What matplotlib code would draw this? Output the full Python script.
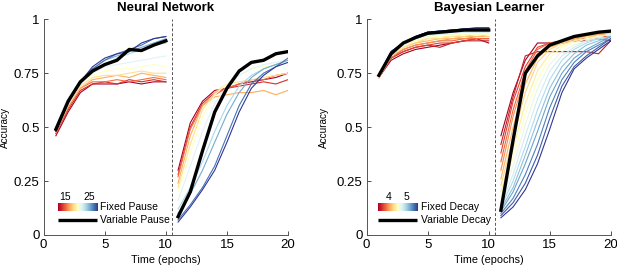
import numpy as np
import matplotlib
matplotlib.use("Agg")
import matplotlib.pyplot as plt

plt.rcParams['font.family'] = ['Liberation Sans', 'DejaVu Sans']

epochs_a = [1, 2, 3, 4, 5, 6, 7, 8, 9, 10]
epochs_b = [11, 12, 13, 14, 15, 16, 17, 18, 19, 20]

# ---------------- Neural Network ----------------
nn_pauses = [12, 13.6, 15.2, 16.8, 18.4, 20, 21.6, 23.2, 24.8, 26.4, 28]
nn_fixed_a = [
    [0.46, 0.57, 0.66, 0.70, 0.70, 0.70, 0.71, 0.70, 0.71, 0.71],
    [0.47, 0.58, 0.67, 0.70, 0.71, 0.70, 0.72, 0.71, 0.72, 0.71],
    [0.47, 0.59, 0.68, 0.71, 0.71, 0.72, 0.71, 0.72, 0.73, 0.72],
    [0.48, 0.60, 0.68, 0.72, 0.73, 0.74, 0.73, 0.75, 0.74, 0.73],
    [0.48, 0.60, 0.69, 0.73, 0.74, 0.74, 0.75, 0.76, 0.75, 0.75],
    [0.48, 0.61, 0.70, 0.74, 0.76, 0.77, 0.77, 0.78, 0.79, 0.78],
    [0.49, 0.61, 0.70, 0.75, 0.78, 0.79, 0.80, 0.81, 0.82, 0.83],
    [0.49, 0.62, 0.70, 0.76, 0.79, 0.82, 0.84, 0.86, 0.88, 0.89],
    [0.48, 0.62, 0.71, 0.77, 0.81, 0.83, 0.85, 0.87, 0.89, 0.91],
    [0.48, 0.62, 0.71, 0.77, 0.81, 0.84, 0.86, 0.88, 0.91, 0.92],
    [0.48, 0.61, 0.71, 0.78, 0.82, 0.84, 0.85, 0.89, 0.91, 0.92],
]
nn_fixed_b = [
    [0.30, 0.52, 0.62, 0.67, 0.68, 0.70, 0.71, 0.72, 0.73, 0.75],
    [0.28, 0.50, 0.61, 0.66, 0.68, 0.69, 0.70, 0.71, 0.70, 0.72],
    [0.27, 0.49, 0.60, 0.65, 0.68, 0.70, 0.72, 0.72, 0.74, 0.75],
    [0.24, 0.46, 0.60, 0.64, 0.65, 0.66, 0.66, 0.67, 0.65, 0.67],
    [0.22, 0.42, 0.58, 0.66, 0.70, 0.71, 0.72, 0.73, 0.74, 0.75],
    [0.20, 0.38, 0.55, 0.65, 0.70, 0.74, 0.77, 0.78, 0.79, 0.80],
    [0.16, 0.32, 0.48, 0.61, 0.69, 0.74, 0.77, 0.79, 0.80, 0.81],
    [0.12, 0.22, 0.34, 0.48, 0.60, 0.69, 0.74, 0.77, 0.79, 0.81],
    [0.10, 0.19, 0.30, 0.43, 0.56, 0.66, 0.73, 0.77, 0.79, 0.81],
    [0.07, 0.14, 0.22, 0.32, 0.46, 0.60, 0.70, 0.75, 0.78, 0.82],
    [0.06, 0.13, 0.21, 0.30, 0.43, 0.57, 0.68, 0.74, 0.78, 0.80],
]
nn_var_a = [0.49, 0.62, 0.71, 0.76, 0.79, 0.81, 0.86, 0.855, 0.88, 0.90]
nn_var_b = [0.085, 0.20, 0.39, 0.57, 0.68, 0.76, 0.80, 0.81, 0.84, 0.85]
nn_cbar_range = [12, 28]
nn_cbar_ticks = [15, 25]

# ---------------- Bayesian Learner ----------------
bl_decays = [3.4, 3.53, 3.66, 3.8, 3.93, 4.06, 4.2, 4.33, 4.46, 4.6, 4.73, 4.86, 5.0, 5.13, 5.26, 5.4, 5.53]
bl_fixed_a = [
    [0.73, 0.81, 0.84, 0.86, 0.87, 0.88, 0.89, 0.90, 0.91, 0.89],
    [0.73, 0.82, 0.85, 0.87, 0.88, 0.87, 0.89, 0.90, 0.90, 0.90],
    [0.73, 0.82, 0.85, 0.87, 0.88, 0.89, 0.89, 0.90, 0.91, 0.91],
    [0.73, 0.82, 0.86, 0.88, 0.89, 0.90, 0.90, 0.91, 0.91, 0.91],
    [0.73, 0.83, 0.86, 0.88, 0.89, 0.90, 0.91, 0.91, 0.92, 0.92],
    [0.73, 0.83, 0.87, 0.89, 0.90, 0.91, 0.91, 0.92, 0.92, 0.92],
    [0.73, 0.83, 0.87, 0.89, 0.91, 0.91, 0.92, 0.92, 0.93, 0.92],
    [0.73, 0.83, 0.87, 0.90, 0.91, 0.92, 0.92, 0.93, 0.93, 0.93],
    [0.73, 0.84, 0.88, 0.90, 0.92, 0.92, 0.93, 0.93, 0.93, 0.93],
    [0.74, 0.84, 0.88, 0.91, 0.92, 0.93, 0.93, 0.94, 0.94, 0.94],
    [0.74, 0.84, 0.88, 0.91, 0.93, 0.93, 0.94, 0.94, 0.94, 0.94],
    [0.74, 0.85, 0.89, 0.91, 0.93, 0.94, 0.94, 0.95, 0.95, 0.95],
    [0.74, 0.85, 0.89, 0.92, 0.93, 0.94, 0.95, 0.95, 0.95, 0.95],
    [0.74, 0.85, 0.89, 0.92, 0.94, 0.94, 0.95, 0.95, 0.955, 0.955],
    [0.74, 0.85, 0.89, 0.92, 0.94, 0.945, 0.95, 0.955, 0.955, 0.96],
    [0.74, 0.85, 0.89, 0.92, 0.94, 0.945, 0.95, 0.955, 0.96, 0.96],
    [0.74, 0.85, 0.89, 0.92, 0.94, 0.945, 0.95, 0.955, 0.96, 0.96],
]
bl_fixed_b = [
    [0.46, 0.66, 0.81, 0.89, 0.89, 0.89, 0.90, 0.90, 0.91, 0.90],
    [0.42, 0.64, 0.83, 0.85, 0.85, 0.85, 0.85, 0.85, 0.84, 0.90],
    [0.38, 0.62, 0.78, 0.87, 0.89, 0.90, 0.91, 0.91, 0.92, 0.92],
    [0.34, 0.58, 0.76, 0.86, 0.89, 0.90, 0.91, 0.92, 0.92, 0.93],
    [0.30, 0.55, 0.74, 0.84, 0.88, 0.90, 0.91, 0.92, 0.93, 0.93],
    [0.26, 0.50, 0.70, 0.82, 0.87, 0.89, 0.91, 0.92, 0.93, 0.93],
    [0.23, 0.45, 0.66, 0.80, 0.86, 0.89, 0.90, 0.92, 0.92, 0.93],
    [0.20, 0.40, 0.61, 0.76, 0.84, 0.88, 0.90, 0.91, 0.92, 0.93],
    [0.18, 0.36, 0.56, 0.72, 0.82, 0.87, 0.89, 0.91, 0.92, 0.93],
    [0.16, 0.32, 0.51, 0.68, 0.79, 0.85, 0.88, 0.90, 0.92, 0.93],
    [0.14, 0.28, 0.46, 0.63, 0.76, 0.83, 0.87, 0.90, 0.91, 0.92],
    [0.13, 0.25, 0.41, 0.58, 0.72, 0.81, 0.86, 0.89, 0.91, 0.92],
    [0.12, 0.22, 0.37, 0.53, 0.68, 0.78, 0.84, 0.88, 0.90, 0.92],
    [0.11, 0.20, 0.33, 0.48, 0.64, 0.75, 0.82, 0.86, 0.89, 0.92],
    [0.10, 0.17, 0.28, 0.42, 0.59, 0.72, 0.80, 0.85, 0.88, 0.91],
    [0.09, 0.15, 0.24, 0.37, 0.54, 0.69, 0.78, 0.83, 0.87, 0.91],
    [0.08, 0.13, 0.21, 0.33, 0.49, 0.66, 0.77, 0.82, 0.86, 0.90],
]
bl_var_a = [0.74, 0.84, 0.89, 0.915, 0.935, 0.94, 0.945, 0.95, 0.95, 0.95]
bl_var_b = [0.115, 0.44, 0.75, 0.83, 0.88, 0.90, 0.92, 0.93, 0.94, 0.945]
bl_cbar_range = [3.4, 5.6]
bl_cbar_ticks = [4, 5]

xticks = [0, 5, 10, 15, 20]
yticks = [0, 0.25, 0.5, 0.75, 1]
yticklabels = ['0', '0.25', '0.5', '0.75', '1']

cmap = plt.get_cmap('RdYlBu')

fig = plt.figure(figsize=(6.17, 2.69), dpi=100)
axL = fig.add_axes([0.0708, 0.1264, 0.396, 0.802])
axR = fig.add_axes([0.5943, 0.1264, 0.3955, 0.802])

def draw(ax, title, vals, fa, fb, va, vb, crange, cticks, fixed_label, var_label,
         x0, x1, ylab_x):
    n = len(vals)
    for i in range(n):
        c = cmap(i / (n - 1))
        ax.plot(epochs_a, fa[i], color=c, lw=0.8, zorder=2)
        ax.plot(epochs_b, fb[i], color=c, lw=0.8, zorder=2)
    ax.plot(epochs_a, va, color='black', lw=2.4, zorder=3)
    ax.plot(epochs_b, vb, color='black', lw=2.4, zorder=3)
    ax.axvline(10.5, color='#555555', lw=0.7, ls=(0, (3, 2)), zorder=1)
    # legend: colorbar strip
    grad = np.linspace(0, 1, 256)[None, :]
    ax.imshow(grad, extent=[x0, x1, 0.112, 0.145], aspect='auto', cmap=cmap,
              zorder=4, interpolation='bilinear')
    for t in cticks:
        xt = x0 + (t - crange[0]) / (crange[1] - crange[0]) * (x1 - x0)
        ax.text(xt, 0.152, str(t), ha='center', va='bottom', fontsize=7.5)
    ax.text(x1 + 0.3, 0.128, fixed_label, ha='left', va='center', fontsize=7.5)
    ax.plot([x0, x1], [0.068, 0.068], color='black', lw=2.4, solid_capstyle='butt')
    ax.text(x1 + 0.3, 0.068, var_label, ha='left', va='center', fontsize=7.5)

    ax.set_xlim(0, 20)
    ax.set_ylim(0, 1)
    ax.set_xticks(xticks)
    ax.set_yticks(yticks)
    ax.set_yticklabels(yticklabels)
    ax.tick_params(direction='in', length=3, width=0.6, labelsize=9.5,
                   colors='#333333', labelcolor='black', pad=3)
    for s in ['top', 'right']:
        ax.spines[s].set_visible(False)
    for s in ['left', 'bottom']:
        ax.spines[s].set_color('#555555')
        ax.spines[s].set_linewidth(0.7)
    ax.set_title(title, fontsize=9.5, fontweight='bold', pad=6)
    ax.set_xlabel('Time (epochs)', fontsize=7.8, labelpad=3)
    ax.set_ylabel('Accuracy', fontsize=7.2)
    ax.yaxis.set_label_coords(ylab_x, 0.5)

draw(axL, 'Neural Network', nn_pauses, nn_fixed_a, nn_fixed_b, nn_var_a, nn_var_b,
     nn_cbar_range, nn_cbar_ticks, 'Fixed Pause', 'Variable Pause', 1.15, 4.35, -0.138)
draw(axR, 'Bayesian Learner', bl_decays, bl_fixed_a, bl_fixed_b, bl_var_a, bl_var_b,
     bl_cbar_range, bl_cbar_ticks, 'Fixed Decay', 'Variable Decay', 0.95, 4.15, -0.153)

fig.savefig('out.png', dpi=100)
